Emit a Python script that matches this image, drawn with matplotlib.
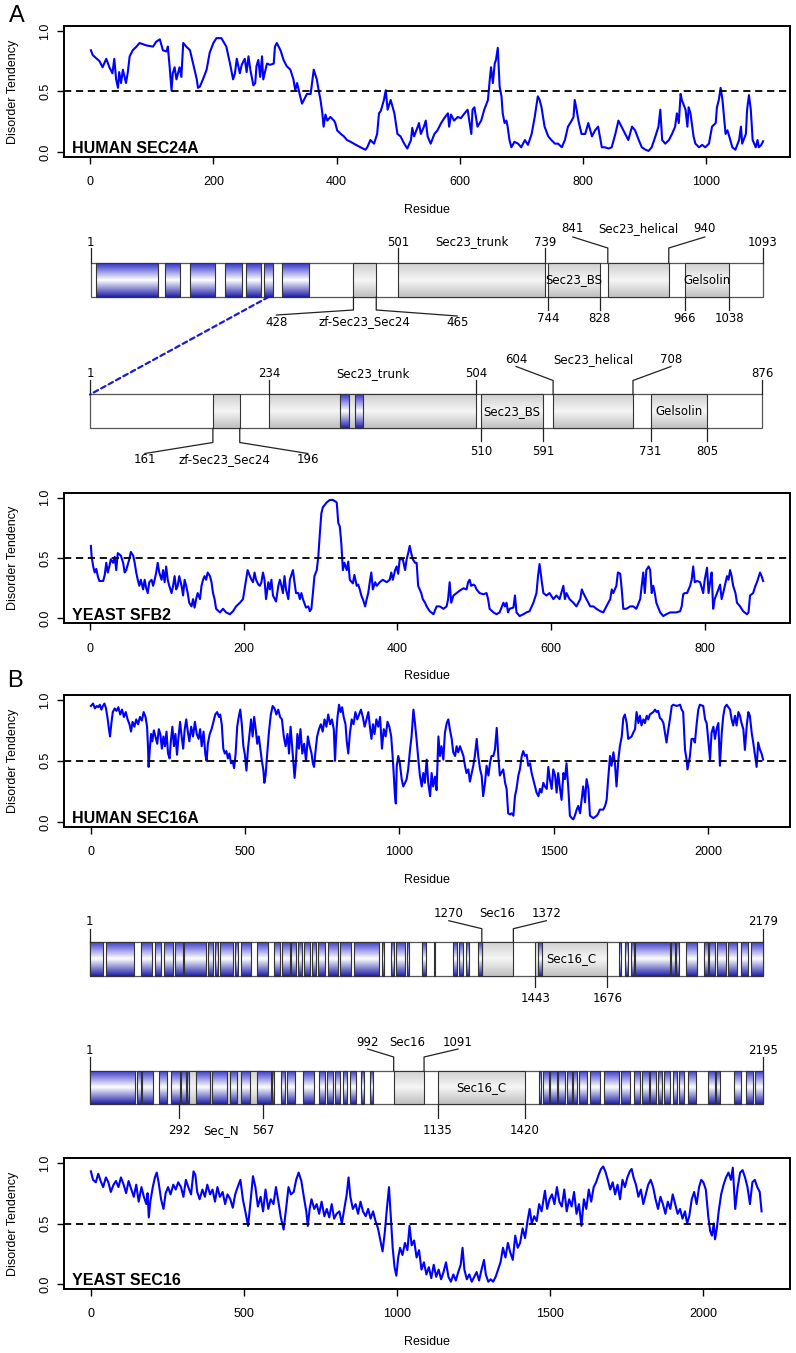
import numpy as np
import matplotlib
matplotlib.use('Agg')
import matplotlib.pyplot as plt
from matplotlib.colors import LinearSegmentedColormap
from matplotlib.patches import Rectangle, ConnectionPatch

# ---------------- data ----------------
sec24a_len = 1093
sfb2_len = 876
sec16a_len = 2179
sec16_len = 2195

sec24a_profile = [
    (1, 0.84), (4, 0.80), (15, 0.75), (20, 0.70), (26, 0.77), (31, 0.70), (36, 0.65), (39, 0.77),
    (42, 0.60), (45, 0.53), (47, 0.66), (50, 0.57), (53, 0.68), (58, 0.57), (61, 0.66), (64, 0.79),
    (69, 0.84), (75, 0.87), (80, 0.90), (91, 0.88), (102, 0.87), (107, 0.91), (113, 0.93), (118, 0.84),
    (124, 0.83), (126, 0.87), (129, 0.70), (132, 0.51), (134, 0.65), (137, 0.70), (140, 0.60), (145, 0.70),
    (148, 0.62), (151, 0.90), (156, 0.87), (162, 0.84), (167, 0.73), (173, 0.60), (175, 0.53), (178, 0.54),
    (183, 0.60), (189, 0.68), (194, 0.82), (200, 0.90), (205, 0.94), (213, 0.94), (221, 0.87), (227, 0.73),
    (232, 0.60), (235, 0.65), (238, 0.77), (243, 0.65), (246, 0.72), (251, 0.77), (254, 0.66), (257, 0.79),
    (260, 0.68), (265, 0.55), (268, 0.57), (270, 0.71), (273, 0.76), (276, 0.62), (279, 0.79), (281, 0.60),
    (287, 0.73), (292, 0.72), (298, 0.73), (300, 0.87), (303, 0.90), (309, 0.84), (314, 0.76), (319, 0.71),
    (325, 0.68), (330, 0.60), (333, 0.51), (336, 0.57), (341, 0.46), (344, 0.40), (347, 0.43), (352, 0.48),
    (358, 0.48), (363, 0.68), (368, 0.60), (371, 0.51), (374, 0.43), (377, 0.32), (379, 0.21), (382, 0.31),
    (385, 0.26), (390, 0.29), (396, 0.26), (398, 0.24), (401, 0.18), (407, 0.15), (412, 0.13), (417, 0.10),
    (423, 0.085), (428, 0.07), (439, 0.04), (447, 0.02), (450, 0.04), (455, 0.10), (461, 0.07), (466, 0.15),
    (469, 0.32), (472, 0.34), (477, 0.43), (480, 0.51), (483, 0.35), (488, 0.43), (494, 0.32), (499, 0.15),
    (504, 0.13), (510, 0.07), (515, 0.03), (521, 0.10), (523, 0.20), (526, 0.13), (532, 0.21), (534, 0.24),
    (537, 0.15), (542, 0.21), (545, 0.26), (548, 0.13), (553, 0.07), (559, 0.15), (564, 0.18), (570, 0.24),
    (575, 0.28), (581, 0.32), (583, 0.21), (586, 0.31), (591, 0.26), (597, 0.29), (602, 0.28), (608, 0.32),
    (613, 0.35), (619, 0.15), (621, 0.35), (624, 0.37), (629, 0.21), (635, 0.26), (640, 0.35), (646, 0.43),
    (649, 0.60), (651, 0.70), (654, 0.57), (657, 0.73), (659, 0.76), (662, 0.86), (665, 0.54), (668, 0.46),
    (670, 0.32), (673, 0.24), (676, 0.26), (678, 0.21), (681, 0.10), (684, 0.04), (689, 0.085), (695, 0.07),
    (700, 0.04), (706, 0.10), (711, 0.06), (717, 0.15), (722, 0.29), (727, 0.46), (730, 0.43), (733, 0.37),
    (738, 0.21), (744, 0.13), (749, 0.10), (755, 0.07), (760, 0.07), (766, 0.04), (771, 0.10), (776, 0.21),
    (782, 0.26), (785, 0.29), (787, 0.43), (790, 0.35), (793, 0.26), (798, 0.15), (804, 0.15), (809, 0.24),
    (815, 0.13), (820, 0.18), (825, 0.21), (831, 0.04), (836, 0.04), (842, 0.03), (847, 0.04), (853, 0.15),
    (858, 0.26), (863, 0.21), (869, 0.15), (874, 0.10), (880, 0.21), (885, 0.18), (891, 0.10), (896, 0.04),
    (902, 0.02), (907, 0.01), (912, 0.04), (918, 0.13), (923, 0.21), (926, 0.35), (929, 0.10), (934, 0.07),
    (940, 0.10), (945, 0.15), (950, 0.21), (953, 0.32), (956, 0.24), (959, 0.48), (961, 0.43), (967, 0.35),
    (970, 0.21), (972, 0.37), (975, 0.32), (978, 0.21), (980, 0.13), (983, 0.07), (989, 0.04), (994, 0.06),
    (999, 0.04), (1005, 0.07), (1010, 0.21), (1016, 0.24), (1018, 0.37), (1021, 0.43), (1024, 0.53),
    (1027, 0.43), (1029, 0.32), (1032, 0.15), (1035, 0.18), (1038, 0.13), (1043, 0.04), (1048, 0.02),
    (1054, 0.10), (1057, 0.21), (1059, 0.07), (1065, 0.15), (1067, 0.35), (1070, 0.47), (1073, 0.35),
    (1076, 0.10), (1081, 0.04), (1084, 0.10), (1086, 0.04), (1090, 0.06), (1093, 0.09),
]

sfb2_profile = [
    (1, 0.60), (2, 0.51), (4, 0.43), (6, 0.38), (8, 0.41), (10, 0.35), (12, 0.31), (17, 0.31), (19, 0.36),
    (21, 0.46), (23, 0.38), (25, 0.43), (27, 0.49), (30, 0.46), (32, 0.51), (34, 0.40), (36, 0.54), (40, 0.52),
    (43, 0.46), (45, 0.38), (47, 0.40), (51, 0.49), (53, 0.55), (56, 0.52), (58, 0.46), (60, 0.38), (62, 0.32),
    (64, 0.27), (66, 0.32), (69, 0.24), (71, 0.32), (73, 0.25), (75, 0.21), (77, 0.30), (80, 0.32), (82, 0.27),
    (84, 0.32), (86, 0.38), (88, 0.46), (90, 0.38), (93, 0.32), (95, 0.40), (97, 0.30), (99, 0.43), (101, 0.32),
    (103, 0.27), (106, 0.21), (108, 0.27), (110, 0.35), (112, 0.24), (114, 0.27), (116, 0.35), (119, 0.27),
    (121, 0.19), (123, 0.32), (125, 0.27), (127, 0.21), (129, 0.13), (132, 0.10), (134, 0.16), (136, 0.09),
    (138, 0.16), (140, 0.21), (143, 0.16), (145, 0.27), (147, 0.32), (149, 0.35), (151, 0.32), (153, 0.38),
    (156, 0.35), (158, 0.30), (160, 0.21), (162, 0.16), (164, 0.08), (169, 0.05), (173, 0.08), (177, 0.05),
    (182, 0.035), (186, 0.06), (190, 0.10), (195, 0.13), (199, 0.16), (201, 0.24), (203, 0.32), (205, 0.40),
    (208, 0.35), (210, 0.32), (212, 0.30), (214, 0.38), (216, 0.32), (219, 0.28), (221, 0.27), (223, 0.30),
    (225, 0.38), (227, 0.32), (229, 0.16), (232, 0.30), (234, 0.24), (236, 0.32), (238, 0.19), (242, 0.14),
    (245, 0.27), (247, 0.32), (249, 0.27), (251, 0.21), (253, 0.35), (255, 0.24), (258, 0.16), (260, 0.32),
    (264, 0.40), (266, 0.30), (268, 0.21), (271, 0.21), (273, 0.16), (275, 0.21), (277, 0.16), (281, 0.09),
    (284, 0.10), (286, 0.06), (288, 0.08), (290, 0.21), (292, 0.35), (295, 0.40), (297, 0.51), (299, 0.70),
    (301, 0.87), (303, 0.92), (308, 0.96), (312, 0.98), (316, 0.98), (321, 0.96), (323, 0.79), (325, 0.76),
    (327, 0.62), (329, 0.40), (331, 0.46), (334, 0.40), (336, 0.47), (338, 0.32), (342, 0.29), (344, 0.36),
    (347, 0.27), (349, 0.28), (351, 0.24), (353, 0.19), (355, 0.16), (358, 0.10), (360, 0.16), (362, 0.21),
    (364, 0.30), (366, 0.38), (368, 0.24), (371, 0.30), (373, 0.27), (377, 0.30), (381, 0.32), (386, 0.30),
    (390, 0.32), (392, 0.38), (394, 0.32), (397, 0.40), (399, 0.43), (401, 0.37), (403, 0.49), (407, 0.49),
    (410, 0.40), (412, 0.49), (414, 0.54), (416, 0.60), (418, 0.54), (420, 0.49), (423, 0.46), (425, 0.46),
    (427, 0.27), (429, 0.24), (431, 0.21), (433, 0.16), (436, 0.13), (438, 0.10), (442, 0.06), (447, 0.035),
    (451, 0.10), (455, 0.10), (460, 0.08), (464, 0.10), (466, 0.16), (468, 0.30), (470, 0.13), (473, 0.19),
    (477, 0.21), (481, 0.23), (486, 0.25), (490, 0.24), (492, 0.30), (494, 0.32), (496, 0.27), (499, 0.28),
    (501, 0.27), (503, 0.24), (507, 0.21), (512, 0.20), (516, 0.21), (518, 0.16), (520, 0.08), (525, 0.05),
    (529, 0.035), (533, 0.05), (538, 0.13), (540, 0.10), (542, 0.13), (544, 0.05), (546, 0.08), (551, 0.09),
    (553, 0.19), (555, 0.05), (559, 0.02), (564, 0.035), (568, 0.05), (572, 0.06), (577, 0.13), (581, 0.21),
    (583, 0.35), (585, 0.45), (588, 0.30), (590, 0.21), (594, 0.19), (598, 0.21), (603, 0.16), (607, 0.19),
    (611, 0.16), (616, 0.27), (618, 0.16), (620, 0.21), (624, 0.16), (629, 0.13), (633, 0.10), (638, 0.16),
    (640, 0.24), (642, 0.21), (646, 0.16), (651, 0.10), (655, 0.10), (659, 0.08), (664, 0.06), (668, 0.05),
    (672, 0.10), (677, 0.16), (679, 0.24), (681, 0.21), (685, 0.27), (687, 0.38), (690, 0.37), (692, 0.24),
    (694, 0.08), (698, 0.08), (703, 0.10), (707, 0.10), (711, 0.08), (716, 0.16), (718, 0.27), (720, 0.38),
    (722, 0.21), (724, 0.40), (727, 0.43), (729, 0.40), (731, 0.21), (733, 0.27), (735, 0.21), (737, 0.13),
    (742, 0.05), (746, 0.02), (750, 0.035), (755, 0.05), (759, 0.05), (763, 0.05), (768, 0.06), (770, 0.10),
    (772, 0.20), (774, 0.21), (777, 0.21), (781, 0.27), (783, 0.32), (785, 0.43), (787, 0.30), (790, 0.31),
    (794, 0.30), (798, 0.21), (800, 0.32), (803, 0.42), (805, 0.21), (807, 0.30), (809, 0.38), (811, 0.08),
    (813, 0.16), (816, 0.21), (820, 0.28), (822, 0.16), (824, 0.21), (829, 0.35), (831, 0.32), (833, 0.40),
    (835, 0.35), (837, 0.27), (840, 0.21), (842, 0.13), (846, 0.10), (850, 0.06), (855, 0.035), (857, 0.05),
    (859, 0.19), (863, 0.21), (866, 0.27), (868, 0.30), (872, 0.38), (874, 0.35), (876, 0.31),
]

sec16a_profile = [
    (1, 0.95), (8, 0.97), (14, 0.93), (20, 0.95), (25, 0.94), (30, 0.96), (35, 0.92), (40, 0.95), (45, 0.97),
    (50, 0.93), (55, 0.85), (60, 0.75), (63, 0.70), (67, 0.80), (72, 0.90), (78, 0.93), (84, 0.91), (90, 0.94),
    (96, 0.88), (102, 0.92), (108, 0.86), (114, 0.90), (120, 0.84), (126, 0.80), (131, 0.74), (136, 0.82),
    (142, 0.78), (148, 0.84), (154, 0.80), (160, 0.86), (166, 0.83), (172, 0.90), (178, 0.86), (183, 0.78),
    (186, 0.62), (188, 0.45), (192, 0.60), (196, 0.72), (200, 0.66), (205, 0.75), (210, 0.70), (216, 0.64),
    (221, 0.76), (226, 0.72), (231, 0.60), (236, 0.70), (241, 0.62), (246, 0.74), (251, 0.56), (256, 0.52),
    (260, 0.66), (265, 0.78), (270, 0.62), (275, 0.72), (280, 0.55), (285, 0.70), (290, 0.82), (295, 0.70),
    (300, 0.60), (305, 0.76), (310, 0.84), (315, 0.74), (320, 0.66), (326, 0.78), (332, 0.70), (338, 0.82),
    (344, 0.72), (350, 0.68), (355, 0.76), (360, 0.62), (366, 0.74), (372, 0.55), (376, 0.50), (380, 0.64),
    (386, 0.72), (392, 0.76), (398, 0.82), (404, 0.88), (410, 0.90), (416, 0.86), (420, 0.88), (425, 0.80),
    (430, 0.60), (435, 0.56), (440, 0.58), (445, 0.52), (450, 0.56), (455, 0.48), (460, 0.50), (465, 0.44),
    (470, 0.56), (475, 0.78), (480, 0.86), (485, 0.92), (490, 0.80), (495, 0.62), (500, 0.55), (505, 0.42),
    (510, 0.60), (515, 0.72), (520, 0.84), (525, 0.70), (530, 0.86), (535, 0.76), (540, 0.64), (545, 0.70),
    (550, 0.60), (555, 0.50), (560, 0.42), (563, 0.32), (567, 0.38), (572, 0.55), (578, 0.74), (584, 0.88),
    (590, 0.95), (596, 0.93), (602, 0.88), (608, 0.92), (614, 0.86), (620, 0.84), (626, 0.70), (632, 0.62),
    (638, 0.72), (643, 0.56), (648, 0.78), (653, 0.62), (658, 0.45), (661, 0.36), (665, 0.48), (670, 0.72),
    (675, 0.60), (680, 0.76), (686, 0.56), (692, 0.64), (698, 0.50), (704, 0.70), (710, 0.62), (716, 0.56),
    (720, 0.48), (724, 0.45), (728, 0.56), (734, 0.70), (740, 0.76), (746, 0.80), (752, 0.74), (758, 0.84),
    (764, 0.78), (770, 0.88), (776, 0.80), (782, 0.84), (788, 0.76), (792, 0.50), (796, 0.72), (800, 0.86),
    (805, 0.96), (810, 0.90), (815, 0.94), (820, 0.86), (826, 0.80), (830, 0.66), (835, 0.56), (840, 0.72),
    (846, 0.84), (852, 0.80), (858, 0.90), (864, 0.84), (870, 0.88), (876, 0.92), (882, 0.86), (888, 0.78),
    (894, 0.84), (900, 0.90), (905, 0.78), (910, 0.68), (915, 0.80), (920, 0.72), (926, 0.84), (932, 0.78),
    (938, 0.86), (944, 0.60), (950, 0.76), (956, 0.70), (962, 0.82), (968, 0.78), (974, 0.70), (978, 0.56),
    (982, 0.40), (986, 0.22), (989, 0.15), (992, 0.46), (997, 0.54), (1002, 0.48), (1008, 0.35), (1013, 0.29),
    (1019, 0.32), (1024, 0.35), (1029, 0.43), (1035, 0.59), (1040, 0.70), (1046, 0.92), (1051, 0.81),
    (1056, 0.68), (1062, 0.51), (1067, 0.38), (1073, 0.29), (1078, 0.40), (1083, 0.32), (1089, 0.51),
    (1094, 0.32), (1100, 0.21), (1105, 0.40), (1110, 0.29), (1116, 0.37), (1121, 0.26), (1127, 0.70),
    (1132, 0.54), (1137, 0.62), (1143, 0.51), (1148, 0.73), (1154, 0.81), (1159, 0.84), (1164, 0.76),
    (1170, 0.68), (1175, 0.57), (1181, 0.54), (1186, 0.62), (1191, 0.57), (1197, 0.62), (1208, 0.54),
    (1213, 0.46), (1218, 0.40), (1224, 0.43), (1229, 0.33), (1235, 0.40), (1240, 0.46), (1245, 0.54),
    (1251, 0.68), (1256, 0.54), (1262, 0.43), (1267, 0.38), (1272, 0.21), (1278, 0.32), (1283, 0.46),
    (1289, 0.38), (1294, 0.48), (1299, 0.54), (1305, 0.54), (1310, 0.59), (1316, 0.77), (1321, 0.54),
    (1326, 0.38), (1337, 0.43), (1343, 0.32), (1348, 0.27), (1353, 0.07), (1359, 0.06), (1364, 0.07),
    (1370, 0.05), (1375, 0.21), (1380, 0.27), (1386, 0.38), (1391, 0.43), (1397, 0.54), (1402, 0.58),
    (1407, 0.54), (1413, 0.55), (1418, 0.46), (1424, 0.48), (1429, 0.40), (1434, 0.35), (1440, 0.29),
    (1445, 0.24), (1451, 0.21), (1456, 0.27), (1461, 0.24), (1467, 0.32), (1472, 0.29), (1478, 0.27),
    (1483, 0.45), (1488, 0.35), (1494, 0.27), (1499, 0.43), (1505, 0.38), (1510, 0.24), (1515, 0.40),
    (1521, 0.27), (1526, 0.18), (1532, 0.40), (1537, 0.35), (1542, 0.48), (1548, 0.27), (1553, 0.05),
    (1559, 0.03), (1564, 0.02), (1569, 0.05), (1575, 0.10), (1580, 0.13), (1586, 0.07), (1591, 0.18),
    (1596, 0.29), (1602, 0.16), (1607, 0.35), (1613, 0.27), (1618, 0.05), (1629, 0.03), (1640, 0.05),
    (1645, 0.07), (1650, 0.10), (1661, 0.10), (1667, 0.13), (1672, 0.18), (1677, 0.35), (1683, 0.54),
    (1688, 0.46), (1694, 0.57), (1699, 0.48), (1704, 0.29), (1710, 0.51), (1715, 0.62), (1721, 0.70),
    (1726, 0.85), (1731, 0.88), (1737, 0.81), (1742, 0.68), (1748, 0.69), (1753, 0.70), (1758, 0.73),
    (1764, 0.76), (1769, 0.90), (1775, 0.81), (1780, 0.87), (1785, 0.79), (1791, 0.84), (1796, 0.81),
    (1802, 0.87), (1807, 0.84), (1812, 0.88), (1823, 0.90), (1829, 0.92), (1834, 0.90), (1839, 0.91),
    (1845, 0.85), (1850, 0.84), (1856, 0.81), (1861, 0.73), (1866, 0.65), (1872, 0.76), (1877, 0.84),
    (1883, 0.95), (1888, 0.96), (1899, 0.95), (1910, 0.96), (1915, 0.92), (1920, 0.90), (1926, 0.59),
    (1931, 0.51), (1934, 0.43), (1942, 0.54), (1947, 0.68), (1953, 0.68), (1958, 0.65), (1964, 0.81),
    (1969, 0.92), (1974, 0.96), (1985, 0.95), (1991, 0.84), (1996, 0.81), (2001, 0.68), (2007, 0.51),
    (2012, 0.73), (2018, 0.78), (2023, 0.68), (2028, 0.76), (2034, 0.81), (2039, 0.46), (2045, 0.73),
    (2050, 0.87), (2055, 0.94), (2061, 0.96), (2072, 0.92), (2077, 0.84), (2082, 0.79), (2088, 0.87),
    (2093, 0.79), (2099, 0.90), (2104, 0.87), (2109, 0.81), (2115, 0.76), (2120, 0.59), (2126, 0.79),
    (2131, 0.90), (2136, 0.87), (2142, 0.73), (2147, 0.65), (2153, 0.54), (2158, 0.45), (2163, 0.65),
    (2169, 0.59), (2174, 0.56), (2179, 0.51),
]

sec16_profile = [
    (1, 0.93), (8, 0.86), (17, 0.84), (25, 0.91), (33, 0.85), (41, 0.80), (50, 0.88), (58, 0.84), (66, 0.76),
    (75, 0.82), (83, 0.85), (91, 0.80), (99, 0.88), (108, 0.82), (116, 0.75), (124, 0.85), (133, 0.78),
    (141, 0.72), (149, 0.82), (157, 0.68), (166, 0.80), (174, 0.72), (182, 0.66), (186, 0.75), (190, 0.55),
    (195, 0.68), (203, 0.80), (210, 0.88), (216, 0.92), (222, 0.84), (230, 0.70), (238, 0.62), (245, 0.75),
    (253, 0.80), (261, 0.74), (270, 0.82), (278, 0.78), (286, 0.84), (295, 0.80), (303, 0.72), (311, 0.86),
    (319, 0.80), (328, 0.74), (336, 0.93), (342, 0.90), (348, 0.76), (356, 0.70), (365, 0.78), (373, 0.72),
    (381, 0.82), (390, 0.74), (398, 0.78), (406, 0.68), (414, 0.80), (422, 0.72), (431, 0.76), (439, 0.66),
    (447, 0.74), (456, 0.70), (464, 0.63), (472, 0.74), (480, 0.80), (489, 0.86), (497, 0.70), (505, 0.60),
    (514, 0.48), (522, 0.68), (530, 0.89), (538, 0.80), (546, 0.64), (555, 0.72), (563, 0.60), (571, 0.78),
    (580, 0.62), (588, 0.70), (597, 0.66), (605, 0.80), (613, 0.68), (621, 0.55), (630, 0.45), (638, 0.62),
    (646, 0.80), (654, 0.74), (663, 0.76), (671, 0.86), (679, 0.92), (688, 0.85), (696, 0.72), (704, 0.60),
    (709, 0.48), (715, 0.62), (721, 0.70), (730, 0.62), (738, 0.66), (746, 0.58), (754, 0.68), (763, 0.56),
    (771, 0.62), (779, 0.55), (787, 0.66), (795, 0.54), (803, 0.58), (812, 0.60), (820, 0.50), (828, 0.62),
    (836, 0.74), (842, 0.88), (848, 0.72), (856, 0.62), (865, 0.66), (873, 0.58), (881, 0.68), (889, 0.60),
    (898, 0.56), (906, 0.62), (914, 0.54), (922, 0.60), (930, 0.52), (938, 0.46), (946, 0.36), (953, 0.27),
    (960, 0.42), (967, 0.62), (974, 0.80), (980, 0.55), (986, 0.30), (992, 0.14), (998, 0.07), (1004, 0.22),
    (1010, 0.30), (1018, 0.24), (1026, 0.34), (1034, 0.28), (1041, 0.48), (1048, 0.32), (1056, 0.36),
    (1064, 0.22), (1072, 0.28), (1080, 0.12), (1088, 0.18), (1096, 0.08), (1104, 0.14), (1112, 0.05),
    (1120, 0.16), (1128, 0.06), (1136, 0.12), (1144, 0.04), (1152, 0.10), (1160, 0.18), (1168, 0.06),
    (1176, 0.02), (1184, 0.08), (1192, 0.03), (1200, 0.10), (1208, 0.16), (1214, 0.30), (1220, 0.12),
    (1228, 0.04), (1236, 0.08), (1244, 0.02), (1252, 0.06), (1260, 0.10), (1268, 0.03), (1276, 0.12),
    (1284, 0.20), (1290, 0.08), (1298, 0.02), (1306, 0.04), (1314, 0.02), (1322, 0.06), (1330, 0.12),
    (1338, 0.18), (1346, 0.30), (1354, 0.22), (1362, 0.34), (1370, 0.26), (1378, 0.20), (1386, 0.40),
    (1394, 0.30), (1402, 0.34), (1410, 0.46), (1418, 0.38), (1426, 0.52), (1433, 0.62), (1440, 0.50),
    (1448, 0.56), (1456, 0.52), (1464, 0.66), (1472, 0.60), (1483, 0.77), (1490, 0.62), (1498, 0.70),
    (1506, 0.74), (1514, 0.66), (1522, 0.80), (1530, 0.68), (1538, 0.64), (1546, 0.78), (1554, 0.60),
    (1562, 0.70), (1570, 0.64), (1578, 0.76), (1586, 0.58), (1594, 0.66), (1602, 0.48), (1610, 0.70),
    (1618, 0.62), (1626, 0.78), (1634, 0.68), (1642, 0.80), (1650, 0.84), (1658, 0.90), (1666, 0.95),
    (1673, 0.97), (1680, 0.93), (1688, 0.86), (1696, 0.78), (1704, 0.84), (1712, 0.74), (1720, 0.82),
    (1728, 0.70), (1736, 0.86), (1744, 0.80), (1752, 0.88), (1760, 0.93), (1766, 0.95), (1772, 0.88),
    (1780, 0.82), (1788, 0.72), (1796, 0.78), (1804, 0.66), (1812, 0.74), (1820, 0.82), (1828, 0.86),
    (1836, 0.80), (1844, 0.70), (1852, 0.62), (1860, 0.72), (1868, 0.66), (1876, 0.58), (1884, 0.68),
    (1892, 0.62), (1900, 0.74), (1908, 0.66), (1916, 0.58), (1924, 0.62), (1932, 0.54), (1940, 0.60),
    (1947, 0.50), (1954, 0.56), (1962, 0.70), (1970, 0.76), (1978, 0.66), (1986, 0.80), (1993, 0.86),
    (2000, 0.84), (2008, 0.78), (2016, 0.56), (2022, 0.44), (2028, 0.40), (2034, 0.50), (2038, 0.37),
    (2044, 0.46), (2050, 0.60), (2058, 0.74), (2066, 0.82), (2074, 0.88), (2082, 0.92), (2090, 0.86),
    (2096, 0.96), (2104, 0.62), (2112, 0.80), (2120, 0.92), (2128, 0.94), (2136, 0.88), (2144, 0.80),
    (2152, 0.66), (2160, 0.84), (2168, 0.86), (2176, 0.80), (2184, 0.76), (2190, 0.60),
]

# domain architecture (start, end) in residues
sec24a_low = [(10, 111), (122, 147), (162, 203), (220, 247), (253, 278), (283, 298), (312, 355)]
sec24a_domains = {'zf-Sec23_Sec24': (428, 465), 'Sec23_trunk': (501, 739), 'Sec23_BS': (744, 828),
                  'Sec23_helical': (841, 940), 'Gelsolin': (966, 1038)}
sfb2_low = [(326, 338), (346, 357)]
sfb2_domains = {'zf-Sec23_Sec24': (161, 196), 'Sec23_trunk': (234, 504), 'Sec23_BS': (510, 591),
                'Sec23_helical': (604, 708), 'Gelsolin': (731, 805)}
sec16a_low = [(1, 45), (53, 145), (166, 204), (213, 232), (242, 270), (276, 303), (308, 376), (385, 399),
              (406, 417), (423, 464), (470, 482), (491, 523), (543, 577), (599, 616), (622, 650), (654, 669),
              (675, 688), (695, 715), (721, 733), (741, 763), (771, 804), (811, 847), (855, 938), (946, 953),
              (976, 987), (993, 1022), (1029, 1035), (1075, 1090), (1116, 1120), (1178, 1189), (1196, 1208),
              (1219, 1230), (1258, 1270), (1453, 1466), (1713, 1720), (1733, 1743), (1751, 1761), (1767, 1880),
              (1883, 1895), (1898, 1907), (1929, 1965), (1989, 2001), (2006, 2023), (2032, 2059), (2067, 2097),
              (2108, 2131), (2141, 2179)]
sec16a_domains = {'Sec16': (1270, 1372), 'Sec16_C': (1443, 1676)}
sec16_low = [(1, 149), (154, 168), (172, 207), (226, 253), (266, 295), (299, 315), (318, 325), (348, 394),
             (399, 448), (458, 483), (494, 524), (547, 593), (596, 602), (624, 639), (643, 669), (697, 731),
             (749, 769), (774, 795), (800, 818), (826, 841), (850, 868), (884, 896), (914, 925), (1465, 1473),
             (1480, 1499), (1503, 1523), (1529, 1549), (1557, 1572), (1577, 1591), (1595, 1621), (1633, 1664),
             (1679, 1725), (1733, 1763), (1774, 1794), (1802, 1825), (1829, 1848), (1852, 1866), (1872, 1894),
             (1901, 1917), (1921, 1939), (1952, 1978), (2016, 2039), (2043, 2054), (2100, 2123), (2141, 2163),
             (2169, 2195)]
sec16_domains = {'Sec_N': (292, 567), 'Sec16': (992, 1091), 'Sec16_C': (1135, 1420)}

# ---------------- style ----------------
W, H = 796, 1353
plt.rcParams['font.family'] = ['Liberation Sans', 'DejaVu Sans']
fig = plt.figure(figsize=(W / 100, H / 100), dpi=100)
fig.patch.set_facecolor('white')

blue_cmap = LinearSegmentedColormap.from_list('lowc', ['#2222aa', '#ffffff', '#3434cc'])
grey_cmap = LinearSegmentedColormap.from_list('dom', ['#c0c0c0', '#f6f6f6', '#cecece'])
grad = np.linspace(0, 1, 64).reshape(-1, 1)
DOM_FONT = dict(family='DejaVu Sans', fontsize=8.5, color='black')
LINE_C = '#222222'


def px_axes(left, top, right, bottom):
    return fig.add_axes([left / W, 1 - bottom / H, (right - left) / W, (bottom - top) / H])


def profile_plot(box, prof, length, name, ticks):
    ax = px_axes(*box)
    res = [p[0] for p in prof]
    val = [p[1] for p in prof]
    ax.plot(res, val, color='#0000ff', lw=1.5, solid_joinstyle='round')
    ax.axhline(0.5, color='black', lw=1.3, ls=(0, (4, 2.6)))
    pad = 0.04 * (length - 1)
    ax.set_xlim(1 - pad, length + pad)
    ax.set_ylim(-0.04, 1.04)
    ax.set_xticks(ticks)
    ax.set_yticks([0, 0.5, 1.0])
    ax.set_yticklabels(['0.0', '0.5', '1.0'], rotation=90, va='center')
    ax.tick_params(axis='both', length=5, width=1, labelsize=9, color='black')
    ax.tick_params(axis='x', pad=9)
    ax.tick_params(axis='y', pad=4)
    for s in ax.spines.values():
        s.set_linewidth(1.4)
    ax.set_xlabel('Residue', fontsize=9)
    ax.xaxis.set_label_coords(0.5, -0.36)
    ax.set_ylabel('Disorder Tendency', fontsize=9)
    ax.yaxis.set_label_coords(-0.062, 0.5)
    ax.text(0.011, 0.028, name, transform=ax.transAxes, fontsize=11.5, fontweight='bold',
            ha='left', va='baseline')
    return ax


def bar_axes(left, top, right, bottom, length):
    ax = px_axes(left, top, right, bottom)
    ax.set_xlim(1, length)
    ax.set_ylim(0, bottom - top)
    ax.axis('off')
    ax.k = (length - 1) / (right - left)   # residues per pixel
    ax.h = bottom - top
    ax.add_patch(Rectangle((1, 0), length - 1, ax.h, facecolor='white', edgecolor='#555555',
                           lw=0.9, clip_on=False, zorder=1))
    return ax


def gbox(ax, start, end, cmap, z=2):
    ax.imshow(grad, extent=(start, end, 0, ax.h), aspect='auto', cmap=cmap, origin='lower',
              interpolation='bilinear', zorder=z)
    ax.add_patch(Rectangle((start, 0), end - start, ax.h, fill=False, edgecolor='#333333',
                           lw=0.8, clip_on=False, zorder=z + 0.5))


def leader(ax, r, text, side, rise, text_at, dx=0, end=None):
    # side: +1 above the bar, -1 below the bar; distances in pixels from the bar edge
    base = ax.h if side > 0 else 0
    xs = [r, r]
    ys = [base, base + side * rise]
    if dx:
        xs.append(r + dx * ax.k)
        ys.append(base + side * end)
    ax.plot(xs, ys, color=LINE_C, lw=0.9, clip_on=False, zorder=4)
    ax.text(r + dx * ax.k, base + side * text_at, text, ha='center', va='center', **DOM_FONT)


def label_only(ax, r, text, y):
    ax.text(r, y, text, ha='center', va='center', **DOM_FONT)


# ---------------- profiles ----------------
profile_plot((64, 26, 790, 157), sec24a_profile, sec24a_len, 'HUMAN SEC24A', [0, 200, 400, 600, 800, 1000])
profile_plot((64, 492.7, 790, 623.3), sfb2_profile, sfb2_len, 'YEAST SFB2', [0, 200, 400, 600, 800])
profile_plot((64, 695, 790, 826.7), sec16a_profile, sec16a_len, 'HUMAN SEC16A', [0, 500, 1000, 1500, 2000])
profile_plot((64, 1158, 790, 1289), sec16_profile, sec16_len, 'YEAST SEC16', [0, 500, 1000, 1500, 2000])

# ---------------- human SEC24A architecture ----------------
a1 = bar_axes(90.5, 263, 763, 297, sec24a_len)
for s, e in sec24a_low:
    gbox(a1, s, e, blue_cmap)
for nm, (s, e) in sec24a_domains.items():
    gbox(a1, s, e, grey_cmap)
leader(a1, 1, '1', 1, 15, 21)
leader(a1, 1093, '1093', 1, 15, 21)
leader(a1, 501, '501', 1, 15, 21)
leader(a1, 739, '739', 1, 15, 21)
label_only(a1, 620, 'Sec23_trunk', a1.h + 21)
leader(a1, 841, '841', 1, 15, 34, dx=-35, end=26)
leader(a1, 940, '940', 1, 15, 34, dx=36, end=26)
label_only(a1, 890, 'Sec23_helical', a1.h + 34)
leader(a1, 428, '428', -1, 13, 25, dx=-77, end=18)
leader(a1, 465, '465', -1, 13, 26, dx=81, end=19)
label_only(a1, 446, 'zf-Sec23_Sec24', -25)
for r in (744, 828, 966, 1038):
    leader(a1, r, str(r), -1, 13, 21)
label_only(a1, 786, 'Sec23_BS', a1.h / 2)
label_only(a1, 1002, 'Gelsolin', a1.h / 2)

# ---------------- yeast SFB2 architecture ----------------
a2 = bar_axes(90, 394.5, 762, 428.5, sfb2_len)
for nm, (s, e) in sfb2_domains.items():
    gbox(a2, s, e, grey_cmap)
for s, e in sfb2_low:
    gbox(a2, s, e, blue_cmap, z=3)
leader(a2, 1, '1', 1, 14, 21)
leader(a2, 876, '876', 1, 14, 21)
leader(a2, 234, '234', 1, 14, 21)
leader(a2, 504, '504', 1, 14, 21)
label_only(a2, 369, 'Sec23_trunk', a2.h + 21)
leader(a2, 604, '604', 1, 14, 35, dx=-37, end=28)
leader(a2, 708, '708', 1, 14, 35, dx=38, end=28)
label_only(a2, 656, 'Sec23_helical', a2.h + 35)
leader(a2, 161, '161', -1, 14, 31, dx=-68, end=25)
leader(a2, 196, '196', -1, 14, 31, dx=68, end=25)
label_only(a2, 176, 'zf-Sec23_Sec24', -31)
for r in (510, 591, 731, 805):
    leader(a2, r, str(r), -1, 13, 23)
label_only(a2, 550, 'Sec23_BS', a2.h / 2)
label_only(a2, 768, 'Gelsolin', a2.h / 2)

# dashed link between the two Sec24 architectures
con = ConnectionPatch(xyA=(290, 0), coordsA=a1.transData, xyB=(1, a2.h), coordsB=a2.transData,
                      color='#1a1adb', lw=1.6, ls=(0, (2.2, 1.6)), zorder=10)
fig.add_artist(con)

# ---------------- human SEC16A architecture ----------------
b1 = bar_axes(89.6, 941.7, 762.8, 976, sec16a_len)
for nm, (s, e) in sec16a_domains.items():
    gbox(b1, s, e, grey_cmap)
for s, e in sec16a_low:
    gbox(b1, s, e, blue_cmap, z=3)
leader(b1, 1, '1', 1, 13, 20)
leader(b1, 2179, '2179', 1, 13, 20)
leader(b1, 1270, '1270', 1, 13, 28, dx=-33, end=21)
leader(b1, 1372, '1372', 1, 13, 28, dx=33, end=21)
label_only(b1, 1321, 'Sec16', b1.h + 28)
for r in (1443, 1676):
    leader(b1, r, str(r), -1, 11, 22)
label_only(b1, 1560, 'Sec16_C', b1.h / 2)

# ---------------- yeast SEC16 architecture ----------------
b2 = bar_axes(89.6, 1071, 762.8, 1104.3, sec16_len)
for nm, (s, e) in sec16_domains.items():
    gbox(b2, s, e, grey_cmap)
for s, e in sec16_low:
    gbox(b2, s, e, blue_cmap, z=3)
leader(b2, 1, '1', 1, 14, 21)
leader(b2, 2195, '2195', 1, 14, 21)
leader(b2, 992, '992', 1, 14, 29, dx=-26, end=22)
leader(b2, 1091, '1091', 1, 14, 29, dx=34, end=22)
label_only(b2, 1035, 'Sec16', b2.h + 29)
for r in (292, 567, 1135, 1420):
    leader(b2, r, str(r), -1, 14, 26)
label_only(b2, 430, 'Sec_N', -26)
label_only(b2, 1278, 'Sec16_C', b2.h / 2)

# panel letters
fig.text(16.5 / W, 1 - 15.5 / H, 'A', fontsize=17, ha='center', va='center')
fig.text(15 / W, 1 - 681 / H, 'B', fontsize=17, ha='center', va='center')

fig.savefig('out.png', dpi=100, facecolor='white')
